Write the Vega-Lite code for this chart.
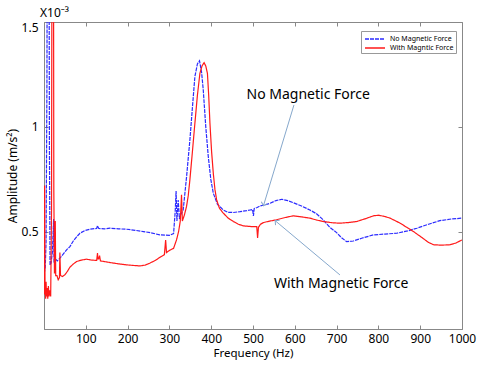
{
  "$schema": "https://vega.github.io/schema/vega-lite/v6.json",
  "width": 418,
  "height": 307,
  "autosize": {"type": "none"},
  "padding": {"left": 44, "top": 22, "right": 15, "bottom": 36},
  "background": "white",
  "title": {"text": "X10⁻³", "anchor": "start", "frame": "group", "dx": -4, "offset": 1, "fontSize": 12, "fontWeight": "normal", "font": "Noto Sans", "color": "#000"},
  "config": {
    "view": {"stroke": "#888", "strokeWidth": 1},
    "font": "Noto Sans",
    "axis": {"grid": false, "domainColor": "#888", "tickColor": "#888", "labelColor": "#000", "titleColor": "#000", "labelFontSize": 12, "titleFontSize": 12, "titleFontWeight": "normal", "tickSize": -4, "labelFont": "Noto Sans", "titleFont": "Noto Sans"}
  },
  "datasets": {
    "main": [
      {"f":0.5,"a":0.30,"s":"No Magnetic Force"},{"f":3,"a":0.33,"s":"No Magnetic Force"},{"f":5,"a":0.45,"s":"No Magnetic Force"},{"f":7,"a":1.2,"s":"No Magnetic Force"},{"f":9,"a":3.0,"s":"No Magnetic Force"},{"f":11,"a":3.0,"s":"No Magnetic Force"},{"f":13,"a":0.9,"s":"No Magnetic Force"},{"f":14.5,"a":0.34,"s":"No Magnetic Force"},{"f":17,"a":0.35,"s":"No Magnetic Force"},{"f":20,"a":0.40,"s":"No Magnetic Force"},{"f":23,"a":0.56,"s":"No Magnetic Force"},{"f":24,"a":0.36,"s":"No Magnetic Force"},{"f":27,"a":0.37,"s":"No Magnetic Force"},{"f":32,"a":0.36,"s":"No Magnetic Force"},{"f":38,"a":0.373,"s":"No Magnetic Force"},{"f":45,"a":0.39,"s":"No Magnetic Force"},{"f":55,"a":0.415,"s":"No Magnetic Force"},{"f":62,"a":0.428,"s":"No Magnetic Force"},{"f":70,"a":0.455,"s":"No Magnetic Force"},{"f":78,"a":0.475,"s":"No Magnetic Force"},{"f":86,"a":0.492,"s":"No Magnetic Force"},{"f":98,"a":0.505,"s":"No Magnetic Force"},{"f":110,"a":0.511,"s":"No Magnetic Force"},{"f":126,"a":0.515,"s":"No Magnetic Force"},{"f":128,"a":0.528,"s":"No Magnetic Force"},{"f":131,"a":0.515,"s":"No Magnetic Force"},{"f":145,"a":0.513,"s":"No Magnetic Force"},{"f":158,"a":0.516,"s":"No Magnetic Force"},{"f":178,"a":0.513,"s":"No Magnetic Force"},{"f":198,"a":0.511,"s":"No Magnetic Force"},{"f":218,"a":0.506,"s":"No Magnetic Force"},{"f":238,"a":0.5,"s":"No Magnetic Force"},{"f":254,"a":0.495,"s":"No Magnetic Force"},{"f":277,"a":0.484,"s":"No Magnetic Force"},{"f":300,"a":0.482,"s":"No Magnetic Force"},{"f":310,"a":0.49,"s":"No Magnetic Force"},{"f":314,"a":0.60,"s":"No Magnetic Force"},{"f":316,"a":0.694,"s":"No Magnetic Force"},{"f":318,"a":0.55,"s":"No Magnetic Force"},{"f":321,"a":0.65,"s":"No Magnetic Force"},{"f":324,"a":0.56,"s":"No Magnetic Force"},{"f":327,"a":0.58,"s":"No Magnetic Force"},{"f":333,"a":0.603,"s":"No Magnetic Force"},{"f":341,"a":0.76,"s":"No Magnetic Force"},{"f":349,"a":0.937,"s":"No Magnetic Force"},{"f":355,"a":1.09,"s":"No Magnetic Force"},{"f":361,"a":1.24,"s":"No Magnetic Force"},{"f":367,"a":1.30,"s":"No Magnetic Force"},{"f":372,"a":1.315,"s":"No Magnetic Force"},{"f":377,"a":1.26,"s":"No Magnetic Force"},{"f":381,"a":1.176,"s":"No Magnetic Force"},{"f":387,"a":1.0,"s":"No Magnetic Force"},{"f":393,"a":0.858,"s":"No Magnetic Force"},{"f":399,"a":0.75,"s":"No Magnetic Force"},{"f":405,"a":0.683,"s":"No Magnetic Force"},{"f":415,"a":0.63,"s":"No Magnetic Force"},{"f":429,"a":0.603,"s":"No Magnetic Force"},{"f":440,"a":0.592,"s":"No Magnetic Force"},{"f":453,"a":0.591,"s":"No Magnetic Force"},{"f":469,"a":0.595,"s":"No Magnetic Force"},{"f":485,"a":0.60,"s":"No Magnetic Force"},{"f":493,"a":0.603,"s":"No Magnetic Force"},{"f":499,"a":0.605,"s":"No Magnetic Force"},{"f":501,"a":0.575,"s":"No Magnetic Force"},{"f":503,"a":0.61,"s":"No Magnetic Force"},{"f":510,"a":0.615,"s":"No Magnetic Force"},{"f":517,"a":0.622,"s":"No Magnetic Force"},{"f":530,"a":0.628,"s":"No Magnetic Force"},{"f":541,"a":0.635,"s":"No Magnetic Force"},{"f":555,"a":0.648,"s":"No Magnetic Force"},{"f":569,"a":0.654,"s":"No Magnetic Force"},{"f":583,"a":0.648,"s":"No Magnetic Force"},{"f":596,"a":0.638,"s":"No Magnetic Force"},{"f":616,"a":0.622,"s":"No Magnetic Force"},{"f":636,"a":0.603,"s":"No Magnetic Force"},{"f":652,"a":0.585,"s":"No Magnetic Force"},{"f":668,"a":0.556,"s":"No Magnetic Force"},{"f":684,"a":0.520,"s":"No Magnetic Force"},{"f":700,"a":0.495,"s":"No Magnetic Force"},{"f":712,"a":0.47,"s":"No Magnetic Force"},{"f":724,"a":0.452,"s":"No Magnetic Force"},{"f":740,"a":0.455,"s":"No Magnetic Force"},{"f":760,"a":0.468,"s":"No Magnetic Force"},{"f":788,"a":0.484,"s":"No Magnetic Force"},{"f":815,"a":0.488,"s":"No Magnetic Force"},{"f":844,"a":0.492,"s":"No Magnetic Force"},{"f":870,"a":0.503,"s":"No Magnetic Force"},{"f":892,"a":0.516,"s":"No Magnetic Force"},{"f":920,"a":0.535,"s":"No Magnetic Force"},{"f":947,"a":0.552,"s":"No Magnetic Force"},{"f":975,"a":0.56,"s":"No Magnetic Force"},{"f":1000,"a":0.564,"s":"No Magnetic Force"},
      {"f":0.5,"a":0.20,"s":"With Magntic Force"},{"f":1.5,"a":0.72,"s":"With Magntic Force"},{"f":2.5,"a":0.22,"s":"With Magntic Force"},{"f":4,"a":0.18,"s":"With Magntic Force"},{"f":5,"a":0.26,"s":"With Magntic Force"},{"f":6,"a":0.19,"s":"With Magntic Force"},{"f":7.5,"a":0.23,"s":"With Magntic Force"},{"f":9,"a":0.18,"s":"With Magntic Force"},{"f":10.5,"a":0.24,"s":"With Magntic Force"},{"f":12,"a":0.19,"s":"With Magntic Force"},{"f":14,"a":0.22,"s":"With Magntic Force"},{"f":16,"a":0.19,"s":"With Magntic Force"},{"f":18,"a":0.6,"s":"With Magntic Force"},{"f":20,"a":3.0,"s":"With Magntic Force"},{"f":22,"a":3.0,"s":"With Magntic Force"},{"f":23.5,"a":0.7,"s":"With Magntic Force"},{"f":25,"a":0.30,"s":"With Magntic Force"},{"f":27,"a":0.55,"s":"With Magntic Force"},{"f":28,"a":0.29,"s":"With Magntic Force"},{"f":31,"a":0.29,"s":"With Magntic Force"},{"f":34,"a":0.27,"s":"With Magntic Force"},{"f":37,"a":0.28,"s":"With Magntic Force"},{"f":38,"a":0.40,"s":"With Magntic Force"},{"f":39.5,"a":0.29,"s":"With Magntic Force"},{"f":44,"a":0.285,"s":"With Magntic Force"},{"f":50,"a":0.294,"s":"With Magntic Force"},{"f":56,"a":0.31,"s":"With Magntic Force"},{"f":62,"a":0.33,"s":"With Magntic Force"},{"f":70,"a":0.345,"s":"With Magntic Force"},{"f":78,"a":0.357,"s":"With Magntic Force"},{"f":90,"a":0.364,"s":"With Magntic Force"},{"f":102,"a":0.368,"s":"With Magntic Force"},{"f":114,"a":0.364,"s":"With Magntic Force"},{"f":126,"a":0.362,"s":"With Magntic Force"},{"f":128,"a":0.397,"s":"With Magntic Force"},{"f":129,"a":0.37,"s":"With Magntic Force"},{"f":131,"a":0.37,"s":"With Magntic Force"},{"f":133,"a":0.385,"s":"With Magntic Force"},{"f":135,"a":0.36,"s":"With Magntic Force"},{"f":158,"a":0.352,"s":"With Magntic Force"},{"f":178,"a":0.346,"s":"With Magntic Force"},{"f":198,"a":0.341,"s":"With Magntic Force"},{"f":215,"a":0.338,"s":"With Magntic Force"},{"f":230,"a":0.336,"s":"With Magntic Force"},{"f":242,"a":0.34,"s":"With Magntic Force"},{"f":254,"a":0.35,"s":"With Magntic Force"},{"f":266,"a":0.362,"s":"With Magntic Force"},{"f":278,"a":0.378,"s":"With Magntic Force"},{"f":288,"a":0.39,"s":"With Magntic Force"},{"f":291,"a":0.46,"s":"With Magntic Force"},{"f":293,"a":0.40,"s":"With Magntic Force"},{"f":300,"a":0.41,"s":"With Magntic Force"},{"f":310,"a":0.42,"s":"With Magntic Force"},{"f":317,"a":0.46,"s":"With Magntic Force"},{"f":322,"a":0.5,"s":"With Magntic Force"},{"f":326,"a":0.55,"s":"With Magntic Force"},{"f":329,"a":0.675,"s":"With Magntic Force"},{"f":331,"a":0.55,"s":"With Magntic Force"},{"f":336,"a":0.58,"s":"With Magntic Force"},{"f":341,"a":0.62,"s":"With Magntic Force"},{"f":345,"a":0.67,"s":"With Magntic Force"},{"f":349,"a":0.747,"s":"With Magntic Force"},{"f":355,"a":0.88,"s":"With Magntic Force"},{"f":361,"a":1.017,"s":"With Magntic Force"},{"f":367,"a":1.15,"s":"With Magntic Force"},{"f":373,"a":1.255,"s":"With Magntic Force"},{"f":378,"a":1.29,"s":"With Magntic Force"},{"f":383,"a":1.306,"s":"With Magntic Force"},{"f":387,"a":1.29,"s":"With Magntic Force"},{"f":391,"a":1.255,"s":"With Magntic Force"},{"f":394,"a":1.15,"s":"With Magntic Force"},{"f":397,"a":1.017,"s":"With Magntic Force"},{"f":401,"a":0.88,"s":"With Magntic Force"},{"f":405,"a":0.778,"s":"With Magntic Force"},{"f":409,"a":0.70,"s":"With Magntic Force"},{"f":413,"a":0.651,"s":"With Magntic Force"},{"f":420,"a":0.61,"s":"With Magntic Force"},{"f":429,"a":0.588,"s":"With Magntic Force"},{"f":440,"a":0.565,"s":"With Magntic Force"},{"f":453,"a":0.548,"s":"With Magntic Force"},{"f":465,"a":0.535,"s":"With Magntic Force"},{"f":477,"a":0.527,"s":"With Magntic Force"},{"f":495,"a":0.524,"s":"With Magntic Force"},{"f":509,"a":0.524,"s":"With Magntic Force"},{"f":511,"a":0.47,"s":"With Magntic Force"},{"f":513,"a":0.52,"s":"With Magntic Force"},{"f":518,"a":0.535,"s":"With Magntic Force"},{"f":525,"a":0.543,"s":"With Magntic Force"},{"f":540,"a":0.55,"s":"With Magntic Force"},{"f":556,"a":0.556,"s":"With Magntic Force"},{"f":575,"a":0.566,"s":"With Magntic Force"},{"f":596,"a":0.575,"s":"With Magntic Force"},{"f":616,"a":0.57,"s":"With Magntic Force"},{"f":636,"a":0.564,"s":"With Magntic Force"},{"f":652,"a":0.555,"s":"With Magntic Force"},{"f":668,"a":0.548,"s":"With Magntic Force"},{"f":690,"a":0.542,"s":"With Magntic Force"},{"f":708,"a":0.54,"s":"With Magntic Force"},{"f":728,"a":0.543,"s":"With Magntic Force"},{"f":748,"a":0.548,"s":"With Magntic Force"},{"f":770,"a":0.562,"s":"With Magntic Force"},{"f":788,"a":0.575,"s":"With Magntic Force"},{"f":800,"a":0.578,"s":"With Magntic Force"},{"f":815,"a":0.572,"s":"With Magntic Force"},{"f":828,"a":0.564,"s":"With Magntic Force"},{"f":852,"a":0.54,"s":"With Magntic Force"},{"f":868,"a":0.52,"s":"With Magntic Force"},{"f":884,"a":0.5,"s":"With Magntic Force"},{"f":905,"a":0.47,"s":"With Magntic Force"},{"f":920,"a":0.448,"s":"With Magntic Force"},{"f":932,"a":0.437,"s":"With Magntic Force"},{"f":950,"a":0.435,"s":"With Magntic Force"},{"f":971,"a":0.437,"s":"With Magntic Force"},{"f":985,"a":0.445,"s":"With Magntic Force"},{"f":1000,"a":0.46,"s":"With Magntic Force"}
    ]
  },
  "layer": [
    {
      "data": {"name": "main"},
      "mark": {"type": "line", "clip": true, "strokeWidth": 1.2},
      "encoding": {
        "x": {"field": "f", "type": "quantitative", "scale": {"domain": [0, 1000], "nice": false, "zero": false}, "axis": {"orient": "bottom", "values": [100,200,300,400,500,600,700,800,900,1000], "format": "d", "labelFlush": false, "title": "Frequency (Hz)", "titleFontSize": 11.5, "labelPadding": 8, "titlePadding": 3}},
        "y": {"field": "a", "type": "quantitative", "scale": {"domain": [0.035, 1.5], "nice": false, "zero": false}, "axis": {"orient": "left", "values": [0.5, 1, 1.5], "format": "~g", "labelFlush": true, "labelFlushOffset": 0, "title": "Amplitude (m/s²)", "labelPadding": 10, "titlePadding": 2}},
        "color": {"field": "s", "type": "nominal", "scale": {"domain": ["No Magnetic Force", "With Magntic Force"], "range": ["#2b2bff", "#ff1a1a"]}, "legend": {"title": null, "orient": "none", "legendX": 317, "legendY": 9, "symbolType": "M-2,0L2,0", "symbolSize": 100, "symbolOffset": 6, "symbolStrokeWidth": 1.5, "labelFontSize": 7, "labelFont": "Noto Sans", "fillColor": "white", "strokeColor": "#999", "padding": 2, "rowPadding": 0, "labelOffset": 9}},
        "strokeDash": {"field": "s", "type": "nominal", "scale": {"domain": ["No Magnetic Force", "With Magntic Force"], "range": [[4, 1], [1, 0]]}, "legend": {"title": null, "orient": "none", "legendX": 317, "legendY": 9, "symbolType": "M-2,0L2,0", "symbolSize": 100, "symbolOffset": 6, "symbolStrokeWidth": 1.5, "labelFontSize": 7, "labelFont": "Noto Sans", "fillColor": "white", "strokeColor": "#999", "padding": 2, "rowPadding": 0, "labelOffset": 9}}
      }
    },
    {
      "data": {"values": [
        {"f": 598, "a": 1.104, "f2": 525, "a2": 0.623},
        {"f": 708, "a": 0.293, "f2": 553, "a2": 0.552}
      ]},
      "mark": {"type": "rule", "color": "#86a8cc", "strokeWidth": 1},
      "encoding": {
        "x": {"field": "f", "type": "quantitative", "axis": null},
        "y": {"field": "a", "type": "quantitative", "axis": null},
        "x2": {"field": "f2"},
        "y2": {"field": "a2"}
      }
    },
    {
      "data": {"values": [{"f": 525, "a": 0.623}]},
      "mark": {"type": "point", "shape": "M-1,1L0,0L1,1", "filled": false, "color": "#86a8cc", "strokeWidth": 1, "size": 40, "angle": 197, "opacity": 1},
      "encoding": {
        "x": {"field": "f", "type": "quantitative", "axis": null},
        "y": {"field": "a", "type": "quantitative", "axis": null}
      }
    },
    {
      "data": {"values": [{"f": 553, "a": 0.552}]},
      "mark": {"type": "point", "shape": "M-1,1L0,0L1,1", "filled": false, "color": "#86a8cc", "strokeWidth": 1, "size": 40, "angle": 310, "opacity": 1},
      "encoding": {
        "x": {"field": "f", "type": "quantitative", "axis": null},
        "y": {"field": "a", "type": "quantitative", "axis": null}
      }
    },
    {
      "data": {"values": [
        {"f": 632, "a": 1.152, "label": "No Magnetic Force"},
        {"f": 711, "a": 0.25, "label": "With Magnetic Force"}
      ]},
      "mark": {"type": "text", "fontSize": 14, "font": "Noto Sans", "color": "#000", "align": "center", "baseline": "middle"},
      "encoding": {
        "x": {"field": "f", "type": "quantitative", "axis": {"orient": "top", "values": [100,200,300,400,500,600,700,800,900,1000], "labels": false, "title": null, "domain": false}},
        "y": {"field": "a", "type": "quantitative", "axis": {"orient": "right", "values": [0.5, 1, 1.5], "labels": false, "title": null, "domain": false}},
        "text": {"field": "label"}
      }
    }
  ],
  "resolve": {"axis": {"x": "independent", "y": "independent"}}
}
